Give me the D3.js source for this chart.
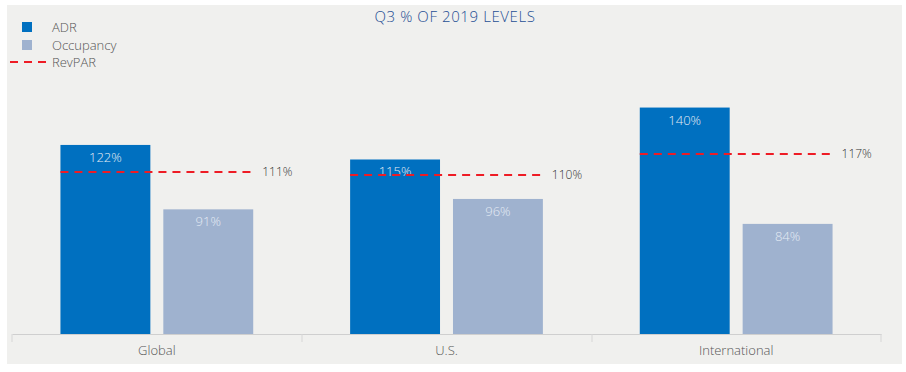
<!DOCTYPE html>
<html>
<head>
<meta charset="utf-8">
<script src="https://cdn.jsdelivr.net/npm/d3@7"></script>
<style>
  body { margin: 0; background: #fff; }
  text { font-family: 'Open Sans', sans-serif; font-weight: 300; }
</style>
</head>
<body>
<svg width="906" height="372"></svg>
<script>
const categories = ['Global', 'U.S.', 'International']
const seriesNames = ['ADR', 'Occupancy']
const adr = [122, 115, 140]
const occupancy = [91, 96, 84]
const revpar = [111, 110, 117]

const colors = { ADR: '#0070c0', Occupancy: '#9fb2cf' }
const svg = d3.select('svg')

// grey panel
svg.append('rect')
  .attr('x', 7).attr('y', 5)
  .attr('width', 895).attr('height', 359)
  .attr('fill', '#f0f0ee')

const baseline = 334
const x0 = d3.scaleBand().domain(categories).range([12, 881])
const x1 = d3.scaleBand().domain(seriesNames)
  .range([0, x0.bandwidth()])
  .paddingInner(0.126).paddingOuter(0.471)
const y = d3.scaleLinear().domain([31, 160]).range([baseline, 66])
// RevPAR sits on its own (secondary) scale
const y2 = d3.scaleLinear().domain([57, 146.33]).range([baseline, 66])

const rows = categories.map((c, i) => ({
  cat: c,
  values: [{ key: 'ADR', v: adr[i] }, { key: 'Occupancy', v: occupancy[i] }],
  revpar: revpar[i]
}))

// axis
const axis = svg.append('g')
  .attr('transform', `translate(0,${baseline})`)
  .call(d3.axisBottom(x0).tickSize(0).tickPadding(12))
axis.select('.domain').attr('stroke', '#cfcfcf')
axis.selectAll('text')
  .attr('font-size', 13).attr('fill', '#555')
  .style('font-family', "'Open Sans', sans-serif")
  .style('font-weight', 300)
// separators between categories
axis.selectAll('line.sep')
  .data([12, 302, 592, 881])
  .join('line')
  .attr('class', 'sep')
  .attr('x1', d => d).attr('x2', d => d)
  .attr('y1', 0).attr('y2', 8)
  .attr('stroke', '#d6d6d6')

const group = svg.append('g').selectAll('g')
  .data(rows)
  .join('g')
  .attr('transform', d => `translate(${x0(d.cat)},0)`)

group.selectAll('rect')
  .data(d => d.values)
  .join('rect')
  .attr('x', d => x1(d.key))
  .attr('y', d => y(d.v))
  .attr('width', x1.bandwidth())
  .attr('height', d => baseline - y(d.v))
  .attr('fill', d => colors[d.key])

group.selectAll('text.val')
  .data(d => d.values)
  .join('text')
  .attr('class', 'val')
  .attr('x', d => x1(d.key) + x1.bandwidth() / 2)
  .attr('y', d => y(d.v) + 17)
  .attr('text-anchor', 'middle')
  .attr('font-size', 13)
  .attr('fill', '#e4ebf4')
  .text(d => d.v + '%')

group.append('line')
  .attr('x1', x1('ADR'))
  .attr('x2', x1('Occupancy') + x1.bandwidth())
  .attr('y1', d => y2(d.revpar))
  .attr('y2', d => y2(d.revpar))
  .attr('stroke', '#ee1c25')
  .attr('stroke-width', 2.2)
  .attr('stroke-dasharray', '8,6')

group.append('text')
  .attr('x', x1('Occupancy') + x1.bandwidth() + 9)
  .attr('y', d => y2(d.revpar))
  .attr('dy', '0.35em')
  .attr('font-size', 12)
  .attr('fill', '#333')
  .text(d => d.revpar + '%')

// title
svg.append('text')
  .attr('x', 455).attr('y', 22)
  .attr('text-anchor', 'middle')
  .attr('font-size', 15)
  .attr('fill', '#1f4f94')
  .attr('letter-spacing', 0.6)
  .text('Q3 % OF 2019 LEVELS')

// legend
const legend = svg.append('g')
seriesNames.forEach((s, i) => {
  legend.append('rect')
    .attr('x', 22).attr('y', 22 + i * 18)
    .attr('width', 10).attr('height', 10)
    .attr('fill', colors[s])
  legend.append('text')
    .attr('x', 52).attr('y', 27 + i * 18)
    .attr('dy', '0.35em')
    .attr('font-size', 13).attr('fill', '#555')
    .text(s)
})
legend.append('line')
  .attr('x1', 10).attr('x2', 48)
  .attr('y1', 62).attr('y2', 62)
  .attr('stroke', '#ee1c25')
  .attr('stroke-width', 2.2)
  .attr('stroke-dasharray', '8,6')
legend.append('text')
  .attr('x', 52).attr('y', 62)
  .attr('dy', '0.35em')
  .attr('font-size', 13).attr('fill', '#555')
  .text('RevPAR')
</script>
</body>
</html>
